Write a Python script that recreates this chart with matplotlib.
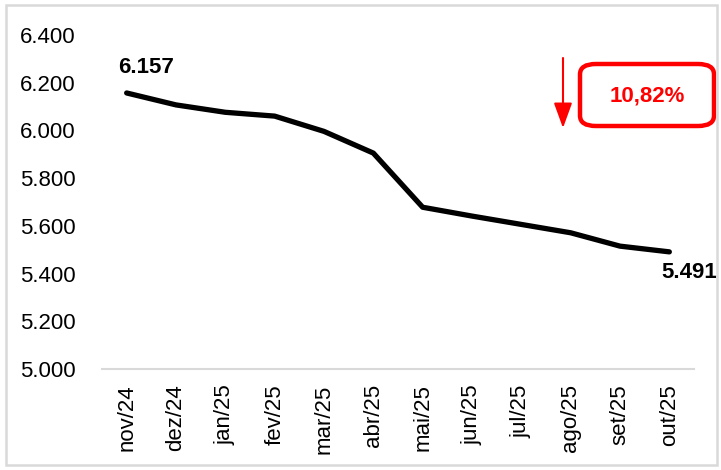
import matplotlib.pyplot as plt
from matplotlib.patches import Rectangle, FancyBboxPatch, FancyArrowPatch

plt.rcParams['font.family'] = ['Liberation Sans', 'DejaVu Sans']

# Data
months = ["nov/24", "dez/24", "jan/25", "fev/25", "mar/25", "abr/25",
          "mai/25", "jun/25", "jul/25", "ago/25", "set/25", "out/25"]
values = [6.157, 6.107, 6.076, 6.060, 5.996, 5.905,
          5.678, 5.641, 5.606, 5.571, 5.515, 5.491]
yticks = [5.0, 5.2, 5.4, 5.6, 5.8, 6.0, 6.2, 6.4]
change_label = "10,82%"

W, H = 721, 470
fig = plt.figure(figsize=(W / 100, H / 100), dpi=100)
ax = fig.add_axes([102 / W, 1 - 369 / H, 592 / W, 334 / H])

x = list(range(len(months)))
ax.plot(x, values, color='black', lw=3.8, solid_capstyle='round', solid_joinstyle='round')

ax.set_xlim(-0.5, len(months) - 0.5)
ax.set_ylim(5.0, 6.4)
ax.set_yticks(yticks)
ax.set_yticklabels([f"{v:.3f}" for v in yticks], fontsize=16)
ax.set_xticks(x)
ax.set_xticklabels(months, rotation=90, fontsize=16)
ax.tick_params(axis='y', length=0, pad=19)
ax.tick_params(axis='x', length=0, pad=11)

for s in ['top', 'right', 'left']:
    ax.spines[s].set_visible(False)
ax.spines['bottom'].set_color('#d9d9d9')
ax.spines['bottom'].set_linewidth(1.5)

# first / last labels
ax.annotate(f"{values[0]:.3f}", (x[0], values[0]), xytext=(14, 18),
            textcoords='offset points', ha='center', va='center',
            fontsize=16, fontweight='bold')
ax.annotate(f"{values[-1]:.3f}", (x[-1], values[-1]), xytext=(14, -15),
            textcoords='offset points', ha='center', va='center',
            fontsize=16, fontweight='bold')

# red box with percent change
box = FancyBboxPatch((580 / W, 1 - 126 / H), 134 / W, 62 / H,
                     boxstyle="round,pad=0,rounding_size=0.022",
                     transform=fig.transFigure, fill=False,
                     edgecolor='#ff0000', lw=3.2)
fig.patches.append(box)
fig.text(647 / W, 1 - 96 / H, change_label, color='#ff0000', fontsize=16,
         fontweight='bold', ha='center', va='center')

arrow = FancyArrowPatch((563 / W, 1 - 58 / H), (563 / W, 1 - 128 / H),
                        transform=fig.transFigure, color='#ff0000',
                        arrowstyle='-|>,head_length=1.1,head_width=0.4', lw=1.5,
                        mutation_scale=14, shrinkA=0, shrinkB=0)
fig.patches.append(arrow)

# outer border
fig.patches.append(Rectangle((6 / W, 5 / H), 711 / W, 460 / H, transform=fig.transFigure,
                             fill=False, edgecolor='#d9d9d9', lw=1.8))

fig.savefig("out.png", dpi=100)
